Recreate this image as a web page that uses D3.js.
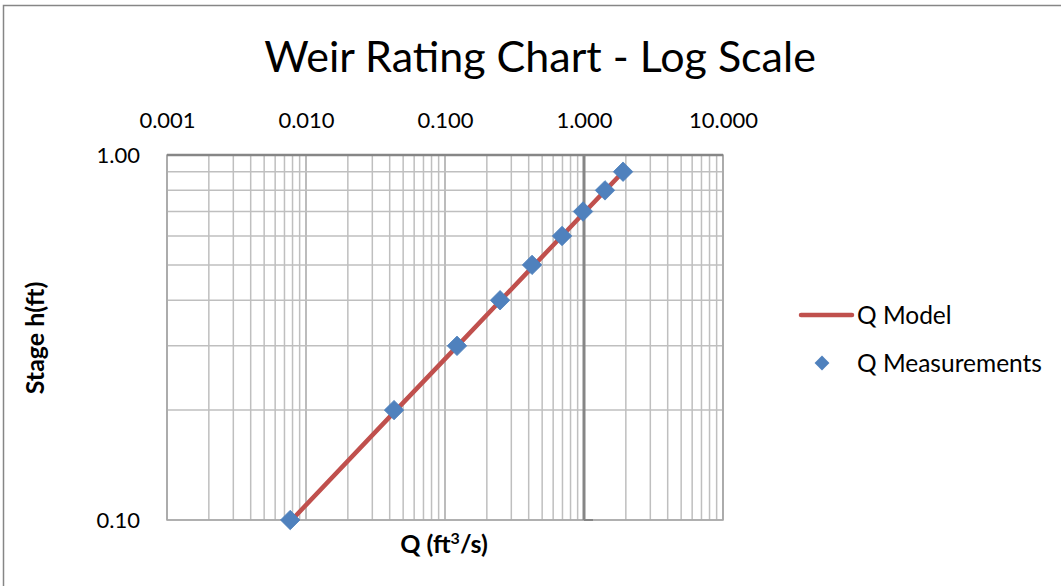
<!DOCTYPE html>
<html>
<head>
<meta charset="utf-8">
<script src="https://cdn.jsdelivr.net/npm/d3@7"></script>
<style>
  body { margin: 0; background: #fff; }
  svg { display: block; font-family: Lato, "Open Sans", sans-serif; }
</style>
</head>
<body>
<div id="chart"></div>
<script>
// stage (ft) and discharge (ft3/s)
var stage = [0.1, 0.2, 0.3, 0.4, 0.5, 0.6, 0.7, 0.8, 0.9];
var qModel = [0.0079, 0.0445, 0.123, 0.252, 0.440, 0.694, 1.02, 1.425, 1.91];
var qMeasured = [0.0077, 0.043, 0.122, 0.249, 0.423, 0.695, 0.984, 1.416, 1.91];
var xTickValues = [0.001, 0.01, 0.1, 1, 10];
var yTickValues = [0.1, 1];

var width = 1061, height = 586;
var plotLeft = 167, plotRight = 723, plotTop = 155, plotBottom = 520;
var gridColor = "#bfbfbf", axisColor = "#868686";

var svg = d3.select("#chart").append("svg")
  .attr("width", width)
  .attr("height", height);

svg.append("rect")
  .attr("width", width).attr("height", height)
  .style("fill", "#fff");

// chart area border (runs off the right and bottom edges)
svg.append("rect")
  .attr("x", 3.5).attr("y", 5.5)
  .attr("width", 1100).attr("height", 700)
  .style("fill", "none")
  .style("stroke", axisColor)
  .style("stroke-width", "1.5px");

var x = d3.scaleLog().domain([0.001, 10]).range([plotLeft, plotRight]);
var y = d3.scaleLog().domain([0.1, 1]).range([plotBottom, plotTop]);

// gridlines
var xGrid = x.ticks();
var yGrid = y.ticks();

svg.append("g").selectAll("line")
  .data(xGrid)
  .enter().append("line")
  .attr("x1", d => x(d)).attr("x2", d => x(d))
  .attr("y1", plotTop).attr("y2", plotBottom)
  .style("stroke", d => (Math.abs(Math.log10(d) % 1) < 1e-9 ? "#a6a6a6" : gridColor))
  .style("stroke-width", "1.5px");

svg.append("g").selectAll("line")
  .data(yGrid)
  .enter().append("line")
  .attr("x1", plotLeft).attr("x2", plotRight)
  .attr("y1", d => y(d)).attr("y2", d => y(d))
  .style("stroke", gridColor)
  .style("stroke-width", "1.5px");

// plot frame
svg.append("rect")
  .attr("x", plotLeft).attr("y", plotTop)
  .attr("width", plotRight - plotLeft).attr("height", plotBottom - plotTop)
  .style("fill", "none")
  .style("stroke", "#a6a6a6")
  .style("stroke-width", "1.5px");

// horizontal axis line sits on top, vertical axis crosses at Q = 1
svg.append("line")
  .attr("x1", plotLeft).attr("x2", plotRight)
  .attr("y1", plotTop).attr("y2", plotTop)
  .style("stroke", axisColor)
  .style("stroke-width", "2.5px");

svg.append("line")
  .attr("x1", x(1)).attr("x2", x(1))
  .attr("y1", plotTop).attr("y2", plotBottom)
  .style("stroke", axisColor)
  .style("stroke-width", "3px");

svg.append("line")
  .attr("x1", x(1)).attr("x2", x(1) + 9)
  .attr("y1", plotBottom).attr("y2", plotBottom)
  .style("stroke", axisColor)
  .style("stroke-width", "2px");

// tick labels
var xAxis = svg.append("g")
  .attr("transform", "translate(0," + plotTop + ")")
  .call(d3.axisTop(x).tickValues(xTickValues).tickFormat(d3.format(".3f")).tickSize(0).tickPadding(27));

var yAxis = svg.append("g")
  .attr("transform", "translate(" + plotLeft + ",0)")
  .call(d3.axisLeft(y).tickValues(yTickValues).tickFormat(d3.format(".2f")).tickSize(0).tickPadding(27));

[xAxis, yAxis].forEach(function(a) {
  a.select("path").remove();
  a.selectAll(".tick text")
    .style("font-family", "Lato, 'Open Sans', sans-serif")
    .style("font-size", "22px")
    .style("fill", "#000");
});
yAxis.selectAll(".tick text").attr("dy", "0.36em");

// model line
var line = d3.line()
  .x((d, i) => x(qModel[i]))
  .y(d => y(d));

svg.append("path")
  .datum(stage)
  .attr("d", line)
  .style("fill", "none")
  .style("stroke", "#c0504d")
  .style("stroke-width", "4.5px")
  .style("stroke-linecap", "round");

// measurement markers
var diamond = d3.symbol().type(d3.symbolSquare).size(190);

svg.append("g").selectAll("path")
  .data(stage)
  .enter().append("path")
  .attr("d", diamond)
  .attr("transform", (d, i) => "translate(" + x(qMeasured[i]) + "," + y(d) + ") rotate(45)")
  .style("fill", "#4f81bd")
  .style("stroke", "#4a7ebb")
  .style("stroke-width", "0.75px");

// title
svg.append("text")
  .attr("x", 540).attr("y", 72)
  .attr("text-anchor", "middle")
  .style("font-size", "43px")
  .text("Weir Rating Chart - Log Scale");

// axis titles
svg.append("text")
  .attr("x", 444).attr("y", 553)
  .attr("text-anchor", "middle")
  .style("font-size", "25px")
  .style("font-weight", "bold")
  .html("Q (ft<tspan dy='-9' font-size='16px'>3</tspan><tspan dy='9'>/s)</tspan>");

svg.append("text")
  .attr("transform", "translate(44,338) rotate(-90)")
  .attr("text-anchor", "middle")
  .style("font-size", "25px")
  .style("font-weight", "bold")
  .text("Stage h(ft)");

// legend
var legend = svg.append("g");
legend.append("line")
  .attr("x1", 801).attr("x2", 852)
  .attr("y1", 315).attr("y2", 315)
  .style("stroke", "#c0504d")
  .style("stroke-width", "4.5px")
  .style("stroke-linecap", "round");
legend.append("text")
  .attr("x", 857).attr("y", 324)
  .style("font-size", "24.5px")
  .text("Q Model");
legend.append("path")
  .attr("d", d3.symbol().type(d3.symbolSquare).size(110))
  .attr("transform", "translate(822,363) rotate(45)")
  .style("fill", "#4f81bd");
legend.append("text")
  .attr("x", 857).attr("y", 372)
  .style("font-size", "24.5px")
  .text("Q Measurements");
</script>
</body>
</html>
